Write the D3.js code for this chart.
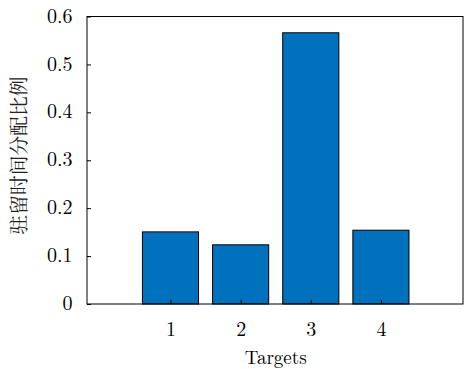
<!DOCTYPE html>
<html><head><meta charset="utf-8">
<script src="https://cdn.jsdelivr.net/npm/d3@7"></script>
<style>
body{margin:0;background:#fff}
svg text{font-family:"Latin Modern Roman","Liberation Serif",serif;fill:#000}
svg text.cjk{font-family:"Noto Serif CJK SC","Noto Sans CJK SC",serif;fill:#222}
</style>
</head><body>
<svg id="c" width="465" height="369"></svg>
<script>
const categories = [1, 2, 3, 4];
const values = [0.1505, 0.1235, 0.566, 0.154];
const yTicks = [0, 0.1, 0.2, 0.3, 0.4, 0.5, 0.6];
const yLabel = "驻留时间分配比例";
const xLabel = "Targets";

const svg = d3.select("#c");
const L = 87, R = 463, T = 16.5, B = 304;
const x = d3.scaleLinear().domain([-0.19, 5.17]).range([L, R]);
const y = d3.scaleLinear().domain([0, 0.6]).range([B, T]);
const bw = 0.8;

svg.append("g").selectAll("rect").data(values).join("rect")
  .attr("x", (d, i) => x(categories[i] - bw / 2))
  .attr("width", (d, i) => x(categories[i] + bw / 2) - x(categories[i] - bw / 2))
  .attr("y", d => y(d))
  .attr("height", d => y(0) - y(d))
  .attr("fill", "#0072BD").attr("stroke", "#000").attr("stroke-width", 1);

svg.append("rect").attr("x", L).attr("y", T).attr("width", R - L).attr("height", B - T)
  .attr("fill", "none").attr("stroke", "#000").attr("stroke-width", 1);

const yAxis = d3.axisLeft(y).tickValues(yTicks).tickSize(-4).tickPadding(14.5)
  .tickFormat(d => d === 0 ? "0" : d3.format(".1f")(d));
const ya = svg.append("g").attr("transform", `translate(${L},0)`).call(yAxis);
ya.select(".domain").remove();
ya.selectAll("text").style("font-size", "20px").attr("dy", "0.28em");

const xAxis = d3.axisBottom(x).tickValues(categories).tickSize(-4).tickPadding(18)
  .tickFormat(d3.format("d"));
const xa = svg.append("g").attr("transform", `translate(0,${B})`).call(xAxis);
xa.select(".domain").remove();
xa.selectAll("text").style("font-size", "20px");

svg.append("text").attr("x", x(2.5)).attr("y", 363.5).attr("text-anchor", "middle")
  .style("font-size", "19px").text(xLabel);

svg.append("text").attr("class", "cjk").attr("transform", "translate(26,155.5) rotate(-90)").attr("text-anchor", "middle")
  .style("font-size", "19.8px").text(yLabel);
</script>
</body></html>
